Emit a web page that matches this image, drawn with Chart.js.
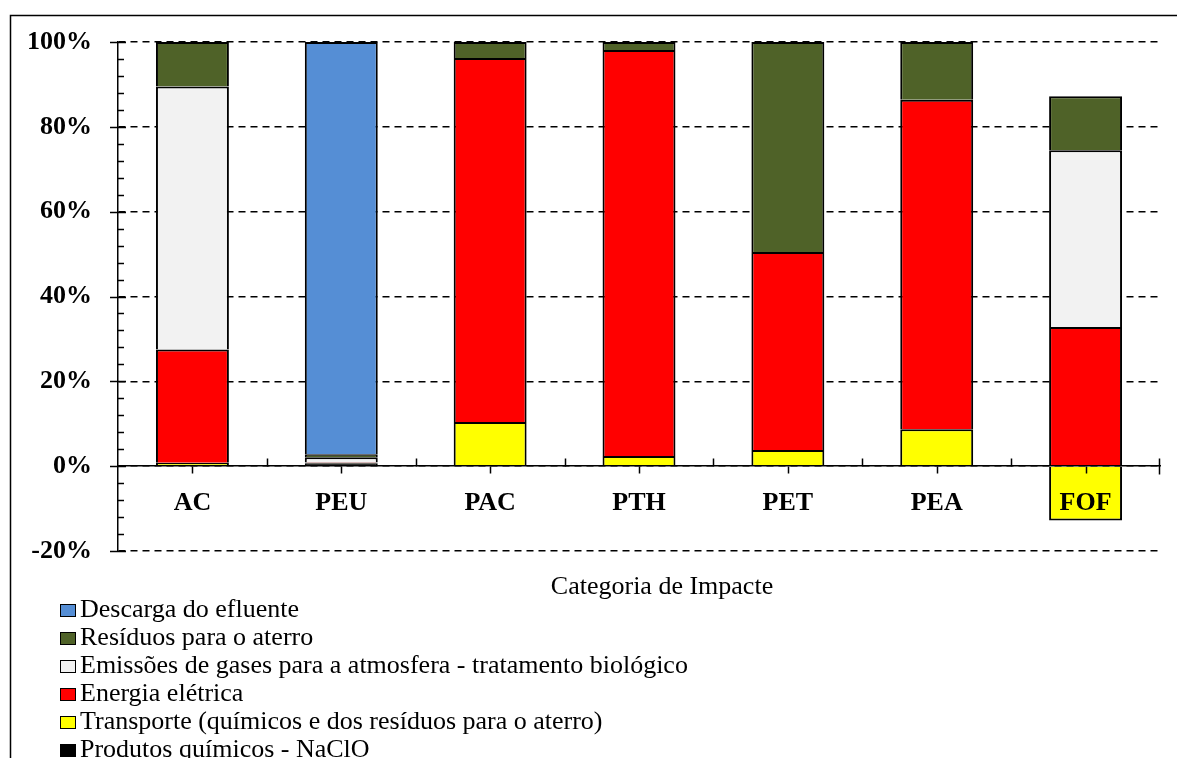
<!DOCTYPE html>
<html>
<head>
<meta charset="utf-8">
<script src="https://cdn.jsdelivr.net/npm/chart.js@4.4.1/dist/chart.umd.min.js"></script>
<style>
  html, body { margin: 0; padding: 0; background: #fff; }
  #wrap { width: 1177px; height: 758px; position: relative; overflow: hidden; }
</style>
</head>
<body>
<div id="wrap"><canvas id="chart" width="1177" height="758"></canvas></div>
<script>
// === DATA (% of each impact category) ===
const categories = ["AC", "PEU", "PAC", "PTH", "PET", "PEA", "FOF"];
const produtosQuimicos = [0.1, 0.7, 0.3, 0.1, 0.1, 0.2, null];
const transporte = [0.7, 0.1, 10.1, 2.3, 3.7, 8.5, -12.8];
const energiaEletrica = [26.7, 0.1, 85.8, 95.7, 46.7, 77.7, 32.8];
const emissoesGases = [62.0, 1.2, null, null, null, null, 41.7];
const residuosAterro = [10.5, 0.7, 3.8, 1.9, 49.5, 13.6, 12.7];
const descargaEfluente = [null, 97.2, null, null, null, null, null];
const yMin = -20, yMax = 100, yStep = 20;
const axisTitle = "Categoria de Impacte";

const serif = "'Liberation Serif', 'Times New Roman', serif";

function ds(label, data, color) {
  return {
    label: label,
    data: data,
    backgroundColor: color,
    borderColor: "#000",
    borderWidth: 2,
    borderSkipped: "start",
    categoryPercentage: 1,
    barPercentage: 0.49,
    stack: "s"
  };
}

// stacking order bottom -> top
const datasets = [
  ds("Produtos químicos - NaClO", produtosQuimicos, "#000000"),
  ds("Transporte (químicos e dos resíduos para o aterro)", transporte, "#FFFF00"),
  ds("Energia elétrica", energiaEletrica, "#FF0000"),
  ds("Emissões de gases para a atmosfera - tratamento biológico", emissoesGases, "#F2F2F2"),
  ds("Resíduos para o aterro", residuosAterro, "#4F6228"),
  ds("Descarga do efluente", descargaEfluente, "#558ED5")
];

// axis ticks, frame, axis title and legend
const decor = {
  id: "decor",
  afterDraw(chart) {
    const ctx = chart.ctx;
    const xs = chart.scales.x, ys = chart.scales.y;
    const area = chart.chartArea;
    ctx.save();
    ctx.strokeStyle = "#000";
    ctx.lineWidth = 1.5;

    // outer frame
    ctx.beginPath();
    ctx.moveTo(10.5, 758);
    ctx.lineTo(10.5, 15.5);
    ctx.lineTo(1177, 15.5);
    ctx.stroke();

    // y ticks (major + minor)
    for (let v = yMin; v <= yMax; v += 4) {
      const py = Math.round(ys.getPixelForValue(v)) + 0.5;
      ctx.beginPath();
      if (v % 20 === 0) { ctx.moveTo(area.left - 8, py); ctx.lineTo(area.left + 8, py); }
      else { ctx.moveTo(area.left, py); ctx.lineTo(area.left + 6, py); }
      ctx.stroke();
    }

    // x ticks
    const y0 = Math.round(ys.getPixelForValue(0)) + 0.5;
    categories.forEach((c, i) => {
      const cx = Math.round(xs.getPixelForValue(i)) + 0.5;
      ctx.beginPath(); ctx.moveTo(cx, y0); ctx.lineTo(cx, y0 + 7); ctx.stroke();
      if (i > 0) {
        const bx = Math.round((xs.getPixelForValue(i - 1) + xs.getPixelForValue(i)) / 2) + 0.5;
        ctx.beginPath(); ctx.moveTo(bx, y0 - 8); ctx.lineTo(bx, y0); ctx.stroke();
      }
    });
    const rx = Math.round(area.right) - 0.5;
    ctx.beginPath(); ctx.moveTo(rx, y0 - 8); ctx.lineTo(rx, y0 + 8); ctx.stroke();

    // axis title
    ctx.fillStyle = "#000";
    ctx.font = "26px " + serif;
    ctx.textAlign = "center";
    ctx.textBaseline = "alphabetic";
    ctx.fillText(axisTitle, 662, 594);

    // legend (reverse of stack order)
    ctx.textAlign = "left";
    ctx.lineWidth = 1;
    const items = chart.data.datasets.slice().reverse();
    items.forEach((d, k) => {
      const base = 617 + 28 * k;
      ctx.fillStyle = d.backgroundColor;
      ctx.fillRect(60, base - 13, 16, 13);
      ctx.strokeRect(60.5, base - 12.5, 15, 12);
      ctx.fillStyle = "#000";
      ctx.fillText(d.label, 80, base);
    });
    ctx.restore();
  }
};

new Chart(document.getElementById("chart"), {
  type: "bar",
  data: { labels: categories, datasets: datasets },
  plugins: [decor],
  options: {
    responsive: false,
    animation: false,
    devicePixelRatio: 1,
    layout: { padding: { left: 0, top: 42, right: 17, bottom: 207 } },
    plugins: {
      legend: { display: false },
      tooltip: { enabled: false }
    },
    scales: {
      x: {
        stacked: true,
        position: { y: 0 },
        grid: { display: false },
        border: { display: true, color: "#000", width: 1.5, z: 1 },
        ticks: {
          z: 1,
          color: "#000",
          padding: 14,
          font: { family: serif, size: 26, weight: "bold" }
        }
      },
      y: {
        stacked: true,
        min: yMin,
        max: yMax,
        afterFit: (s) => { s.width = 118; },
        grid: { color: "#000", lineWidth: 1.5, drawTicks: false },
        border: { display: true, color: "#000", width: 1.5, dash: [7, 5] },
        ticks: {
          stepSize: yStep,
          color: "#000",
          padding: 26,
          font: { family: serif, size: 26, weight: "bold" },
          callback: (v) => v + "%"
        }
      }
    }
  }
});
</script>
</body>
</html>
